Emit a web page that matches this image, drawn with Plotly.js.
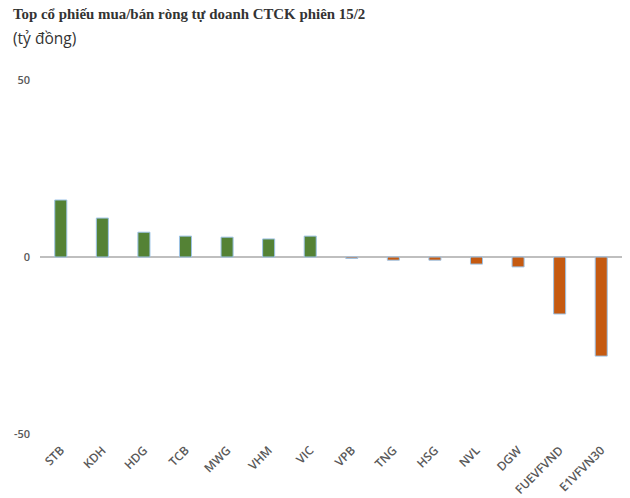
<!DOCTYPE html>
<html>
<head>
<meta charset="utf-8">
<script src="https://cdn.plot.ly/plotly-3.0.1.min.js"></script>
<style>html,body{margin:0;padding:0;background:#fff}#chart{width:630px;height:498px}</style>
</head>
<body>
<div id="chart"></div>
<script>
const tickers = ["STB","KDH","HDG","TCB","MWG","VHM","VIC","VPB","TNG","HSG","NVL","DGW","FUEVFVND","E1VFVN30"];
const netValues = [16.1, 11.0, 7.0, 5.9, 5.6, 5.1, 5.9, -0.4, -0.9, -0.9, -2.0, -2.8, -16.1, -28.0];
const yTicks = [-50, 0, 50];

const colors = netValues.map(v => v >= 0 ? "#548235" : "#C55A11");

const trace = {
  type: "bar",
  x: tickers,
  y: netValues,
  width: 0.29,
  marker: {color: colors, line: {color: "#9DC3E6", width: 1}},
  hoverinfo: "x+y"
};

const layout = {
  width: 630, height: 498,
  margin: {l: 40, r: 8, t: 80, b: 64},
  paper_bgcolor: "#fff", plot_bgcolor: "#fff",
  showlegend: false,
  xaxis: {
    type: "category",
    showline: false, showgrid: false, zeroline: false,
    tickangle: -45,
    ticks: "",
    ticklabelstandoff: 6,
    tickfont: {family: "Open Sans, sans-serif", size: 12, color: "#595959", weight: 600},
    automargin: false
  },
  yaxis: {
    range: [-50, 50],
    tickvals: yTicks,
    ticktext: yTicks.map(String),
    showgrid: false, showline: false,
    zeroline: true, zerolinecolor: "#BFBFBF", zerolinewidth: 1.5,
    ticks: "",
    ticklabelstandoff: 9,
    tickfont: {family: "Open Sans, sans-serif", size: 11, color: "#595959", weight: 600},
    automargin: false
  },
  annotations: [
    {xref: "paper", yref: "paper", x: -0.05, y: 1, yshift: 76, xanchor: "left", yanchor: "top",
     text: "<b>Top cổ phiếu mua/bán ròng tự doanh CTCK phiên 15/2</b>", showarrow: false,
     font: {family: "Liberation Serif, serif", size: 14.9, color: "#333333"}},
    {xref: "paper", yref: "paper", x: -0.05, y: 1, yshift: 55, xanchor: "left", yanchor: "top",
     text: "(tỷ đồng)", showarrow: false,
     font: {family: "Open Sans, sans-serif", size: 15.5, color: "#333333"}}
  ]
};

Plotly.newPlot("chart", [trace], layout, {displayModeBar: false, staticPlot: true});
</script>
</body>
</html>
